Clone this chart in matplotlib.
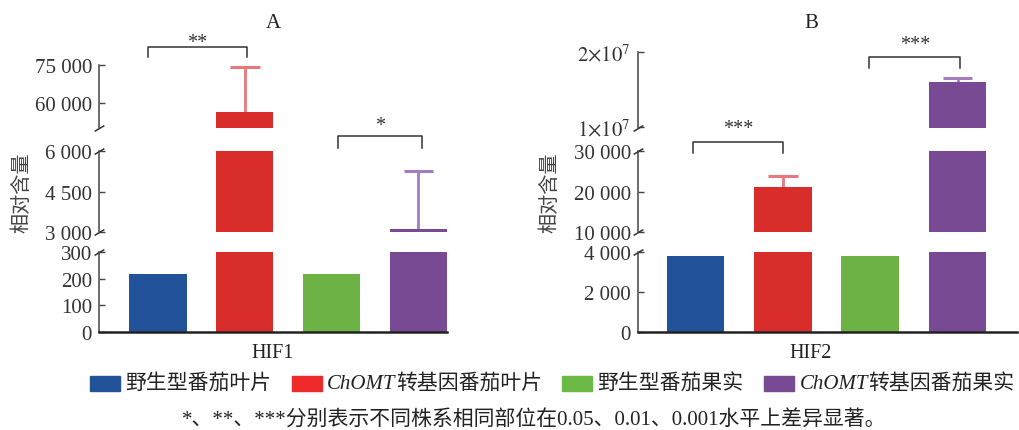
import matplotlib
matplotlib.use('Agg')
import matplotlib.pyplot as plt
from matplotlib.patches import Rectangle
from matplotlib.offsetbox import HPacker, TextArea, DrawingArea, AnchoredOffsetbox

plt.rcParams['font.family'] = ['Liberation Serif', 'Noto Sans CJK SC']
plt.rcParams['mathtext.fontset'] = 'stix'

# data
groups = ['野生型番茄叶片', 'ChOMT转基因番茄叶片', '野生型番茄果实', 'ChOMT转基因番茄果实']
colors = ['#22539a', '#d92d2c', '#6cb244', '#774a93']
err_colors = [None, '#e9777e', None, '#a47cbd']

hif1_values = [218, 56500, 218, 3100]
hif1_err = [0, 17700, 0, 2150]
hif2_values = [3800, 21000, 3800, 16000000]
hif2_err = [0, 2800, 0, 530000]

# y ranges of the three axis pieces (bottom, middle, top) and their ticks
hif1_ranges = [(0, 300), (3000, 6000), (50000, 75000)]
hif1_ticks = [[0, 100, 200, 300], [3000, 4500, 6000], [60000, 75000]]
hif2_ranges = [(0, 4000), (10000, 30000), (9.9e6, 2e7)]
hif2_ticks = [[0, 2000, 4000], [10000, 20000, 30000], [1e7, 2e7]]

# significance: (from bar, to bar, piece, bracket y, tick bottom y, star y, stars)
hif1_sig = [(-0.11, 1.02, 2, 82300, 78000, 82300, '**'),
            (2.07, 3.04, 1, 6560, 6110, 6780, '*')]
hif2_sig = [(-0.03, 1.0, 1, 32200, 29500, 34400, '***'),
            (1.99, 3.03, 2, 1.933e7, 1.787e7, 2.04e7, '***')]

W, H = 1019, 431
fig = plt.figure(figsize=(W / 100, H / 100), dpi=100)
TXT = '#333333'


def fmt(v):
    if v >= 1e6:
        return r'$%d{\times}10^{%d}$' % (round(v / 1e7), 7)
    if v >= 1000:
        return f'{v:,.0f}'.replace(',', ' ')
    return f'{v:.0f}'


def panel(x0, x1, tops, xlim, values, errs, ranges, ticks, sig, title, xlab, xlab_pos, ylab_x):
    pieces = [(253, 333), (152, 233), (tops, 129)]
    axes = []
    for k, (ya, yb) in enumerate(pieces):
        ax = fig.add_axes([x0 / W, 1 - yb / H, (x1 - x0) / W, (yb - ya) / H])
        ax.bar(range(4), values, width=0.66, color=colors, zorder=2)
        for i in range(4):
            if errs[i]:
                ax.vlines(i, values[i], values[i] + errs[i], color=err_colors[i], lw=2, zorder=1)
                ax.hlines(values[i] + errs[i], i - 0.17, i + 0.17, color=err_colors[i], lw=2.2, zorder=1)
        ax.set_xlim(*xlim)
        ax.set_ylim(*ranges[k])
        ax.set_yticks(ticks[k])
        ax.set_yticklabels([fmt(t) for t in ticks[k]], fontsize=15, color=TXT)
        ax.tick_params(axis='y', direction='in', length=4, width=1, color='#444444', pad=5)
        ax.set_xticks([])
        ax.patch.set_alpha(0)
        for s in ['top', 'right']:
            ax.spines[s].set_visible(False)
        ax.spines['left'].set_color('#444444')
        ax.spines['left'].set_linewidth(1.1)
        if k == 0:
            ax.spines['bottom'].set_color('#222222')
            ax.spines['bottom'].set_linewidth(1.8)
        else:
            ax.spines['bottom'].set_visible(False)
        ends = [1] if k == 0 else ([0, 1] if k == 1 else [0])
        for e in ends:
            ax.plot([0], [e], transform=ax.transAxes, marker=[(-1, -0.6), (1, 0.6)],
                    ms=7, mew=1.1, mec='#333333', ls='none', clip_on=False)
        axes.append(ax)

    for a, b, k, yb, yt, ys, stars in sig:
        ax = axes[k]
        ax.plot([a, a, b, b], [yt, yb, yb, yt], color='#333333', lw=1.1, clip_on=False)
        ax.text((a + b) / 2, ys, stars, ha='center', va='baseline', fontsize=14.5,
                color=TXT, clip_on=False)

    axes[0].text(xlab_pos, -0.26, xlab, transform=axes[0].transAxes, ha='center',
                 va='center', fontsize=14.5, color='#222222')
    fig.text(xlab_pos * (x1 - x0) / W + x0 / W, 1 - 24 / H, title, ha='center',
             va='center', fontsize=15, color='#222222')
    fig.text(ylab_x / W, 1 - 193 / H, '相对含量', rotation=90, ha='center', va='center',
             fontsize=14.5, color='#444444', family='Noto Sans CJK SC')
    return axes


panel(99, 447, 66, (-0.68, 3.33), hif1_values, hif1_err, hif1_ranges, hif1_ticks,
      hif1_sig, 'A', 'HIF1', 0.5, 22)
panel(638, 1017, 53, (-0.66, 3.68), hif2_values, hif2_err, hif2_ranges, hif2_ticks,
      hif2_sig, 'B', 'HIF2', 0.456, 550)

# legend with italic gene name
fam = ['Liberation Serif', 'Noto Sans CJK SC']
items = []
for name, c in zip(groups, ['#22539a', '#ee2a2a', '#6cb844', '#774a93']):
    da = DrawingArea(21.6, 10.8, 0, 0)
    da.add_artist(Rectangle((0, 0), 21.6, 10.8, color=c))
    parts = [da]
    if name.startswith('ChOMT'):
        parts.append(HPacker(children=[
            TextArea('ChOMT', textprops=dict(fontsize=15, style='italic', family=fam, color='#222222')),
            TextArea(name[5:], textprops=dict(fontsize=15, family=fam, color='#222222'))],
            sep=0, pad=0, align='baseline'))
    else:
        parts.append(TextArea(name, textprops=dict(fontsize=15, family=fam, color='#222222')))
    items.append(HPacker(children=parts, sep=4, pad=0, align='center'))
box = HPacker(children=items, sep=14.5, pad=0, align='center')
anchored = AnchoredOffsetbox(loc='center', child=box, frameon=False, pad=0, borderpad=0,
                             bbox_to_anchor=(552 / W, 1 - 384 / H),
                             bbox_transform=fig.transFigure)
fig.add_artist(anchored)

fig.text(534 / W, 1 - 421 / H, '*、**、***分别表示不同株系相同部位在0.05、0.01、0.001水平上差异显著。',
         ha='center', va='center', fontsize=15, color='#222222', family=fam)

fig.savefig('out.png', dpi=100)
